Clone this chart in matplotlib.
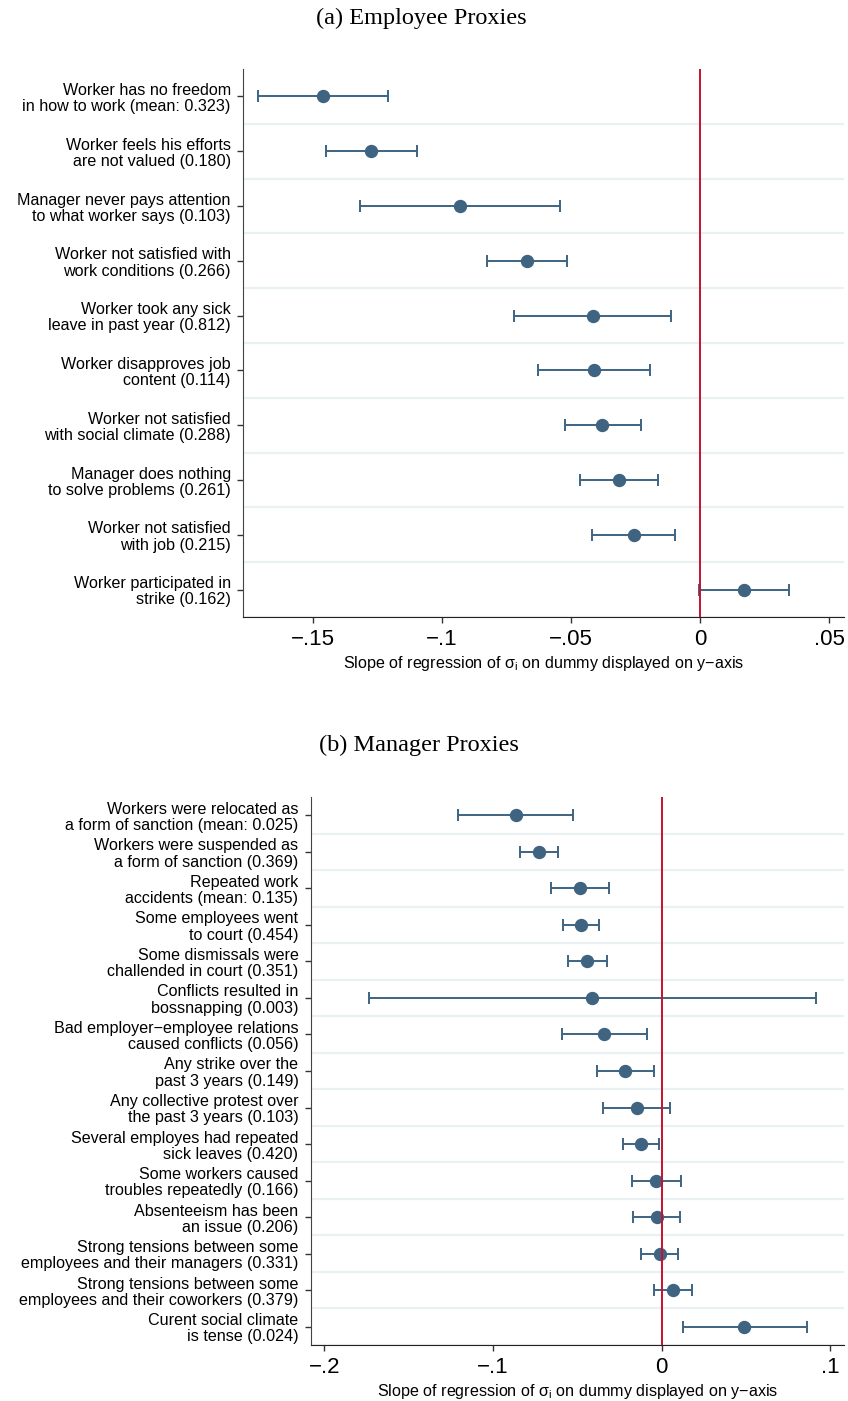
import numpy as np
import matplotlib
matplotlib.use("Agg")
import matplotlib.pyplot as plt

plt.rcParams["font.family"] = ["Liberation Sans", "DejaVu Sans"]
plt.rcParams["mathtext.default"] = "regular"

# panel (a): employee proxies
emp_labels = [
    "Worker has no freedom\nin how to work (mean: 0.323)",
    "Worker feels his efforts\nare not valued (0.180)",
    "Manager never pays attention\nto what worker says (0.103)",
    "Worker not satisfied with\nwork conditions (0.266)",
    "Worker took any sick\nleave in past year (0.812)",
    "Worker disapproves job\ncontent (0.114)",
    "Worker not satisfied\nwith social climate (0.288)",
    "Manager does nothing\nto solve problems (0.261)",
    "Worker not satisfied\nwith job (0.215)",
    "Worker participated in\nstrike (0.162)",
]
emp_coef = [-0.1462, -0.1275, -0.0930, -0.0671, -0.0417, -0.0411, -0.0379, -0.0315, -0.0257, 0.0168]
emp_lo = [-0.1714, -0.1451, -0.1318, -0.0826, -0.0722, -0.0627, -0.0525, -0.0465, -0.0419, -0.0004]
emp_hi = [-0.1210, -0.1097, -0.0543, -0.0516, -0.0112, -0.0194, -0.0230, -0.0164, -0.0096, 0.0342]
emp_ticks = [-0.15, -0.10, -0.05, 0.0, 0.05]
emp_ticklabels = ["\u2212.15", "\u2212.1", "\u2212.05", "0", ".05"]

# panel (b): manager proxies
man_labels = [
    "Workers were relocated as\na form of sanction (mean: 0.025)",
    "Workers were suspended as\na form of sanction (0.369)",
    "Repeated work\naccidents (mean: 0.135)",
    "Some employees went\nto court (0.454)",
    "Some dismissals were\nchallended in court (0.351)",
    "Conflicts resulted in\nbossnapping (0.003)",
    "Bad employer\u2212employee relations\ncaused conflicts (0.056)",
    "Any strike over the\npast 3 years (0.149)",
    "Any collective protest over\nthe past 3 years (0.103)",
    "Several employes had repeated\nsick leaves (0.420)",
    "Some workers caused\ntroubles repeatedly (0.166)",
    "Absenteeism has been\nan issue (0.206)",
    "Strong tensions between some\nemployees and their managers (0.331)",
    "Strong tensions between some\nemployees and their coworkers (0.379)",
    "Curent social climate\nis tense (0.024)",
]
man_coef = [-0.0867, -0.0730, -0.0486, -0.0480, -0.0442, -0.0415, -0.0340, -0.0220, -0.0149,
            -0.0125, -0.0036, -0.0030, -0.0012, 0.0067, 0.0488]
man_lo = [-0.1208, -0.0843, -0.0657, -0.0586, -0.0555, -0.1738, -0.0590, -0.0386, -0.0350,
          -0.0232, -0.0178, -0.0172, -0.0125, -0.0044, 0.0125]
man_hi = [-0.0528, -0.0617, -0.0315, -0.0371, -0.0327, 0.0913, -0.0085, -0.0048, 0.0048,
          -0.0018, 0.0113, 0.0107, 0.0095, 0.0181, 0.0861]
man_ticks = [-0.2, -0.1, 0.0, 0.1]
man_ticklabels = ["\u2212.2", "\u2212.1", "0", ".1"]

XLABEL = "Slope of regression of \u03c3$_{i}$ on dummy displayed on y\u2212axis"
BLUE = "#3e6482"
RED = "#c8102e"
GRID = "#eaf1f3"


def coef_panel(ax, labels, coef, lo, hi, xlim, ticks, ticklabels):
    n = len(labels)
    y = np.arange(1, n + 1)
    coef = np.array(coef)
    err = [coef - np.array(lo), np.array(hi) - coef]
    ax.set_yticks(y + 0.5, minor=True)
    ax.grid(True, which="minor", axis="y", color=GRID, lw=1.6)
    ax.errorbar(coef, y, xerr=err, fmt="o", color=BLUE, ms=8.6, elinewidth=1.4,
                capsize=4.3, capthick=1.4, zorder=3)
    ax.axvline(0, color=RED, lw=1.4, zorder=4)
    ax.set_ylim(n + 0.5, 0.5)
    ax.set_xlim(*xlim)
    ax.set_yticks(y)
    ax.set_yticklabels(labels, fontsize=11.6, linespacing=1.1)
    ax.set_xticks(ticks)
    ax.set_xticklabels(ticklabels, fontsize=16)
    ax.tick_params(axis="y", which="minor", length=0)
    ax.tick_params(axis="both", which="major", length=4.5, width=1, color="#333333", pad=4.5)
    ax.tick_params(axis="x", pad=4)
    for s in ["top", "right"]:
        ax.spines[s].set_visible(False)
    ax.spines["left"].set_color("#444444")
    ax.spines["bottom"].set_color("#222222")
    ax.set_xlabel(XLABEL, fontsize=11.6, labelpad=3)


fig = plt.figure(figsize=(8.48, 14.01), dpi=100)

ax1 = fig.add_axes([0.2869, 0.5596, 0.7084, 0.3911])
coef_panel(ax1, emp_labels, emp_coef, emp_lo, emp_hi, (-0.177, 0.0557), emp_ticks, emp_ticklabels)
fig.text(0.497, 0.987, "(a) Employee Proxies", ha="center", va="center",
         fontsize=17.5, family=["Liberation Serif", "DejaVu Serif"])

ax2 = fig.add_axes([0.3667, 0.04, 0.6285, 0.3911])
coef_panel(ax2, man_labels, man_coef, man_lo, man_hi, (-0.208, 0.108), man_ticks, man_ticklabels)
fig.text(0.494, 0.4683, "(b) Manager Proxies", ha="center", va="center",
         fontsize=17.5, family=["Liberation Serif", "DejaVu Serif"])

fig.savefig("out.png", dpi=100)
